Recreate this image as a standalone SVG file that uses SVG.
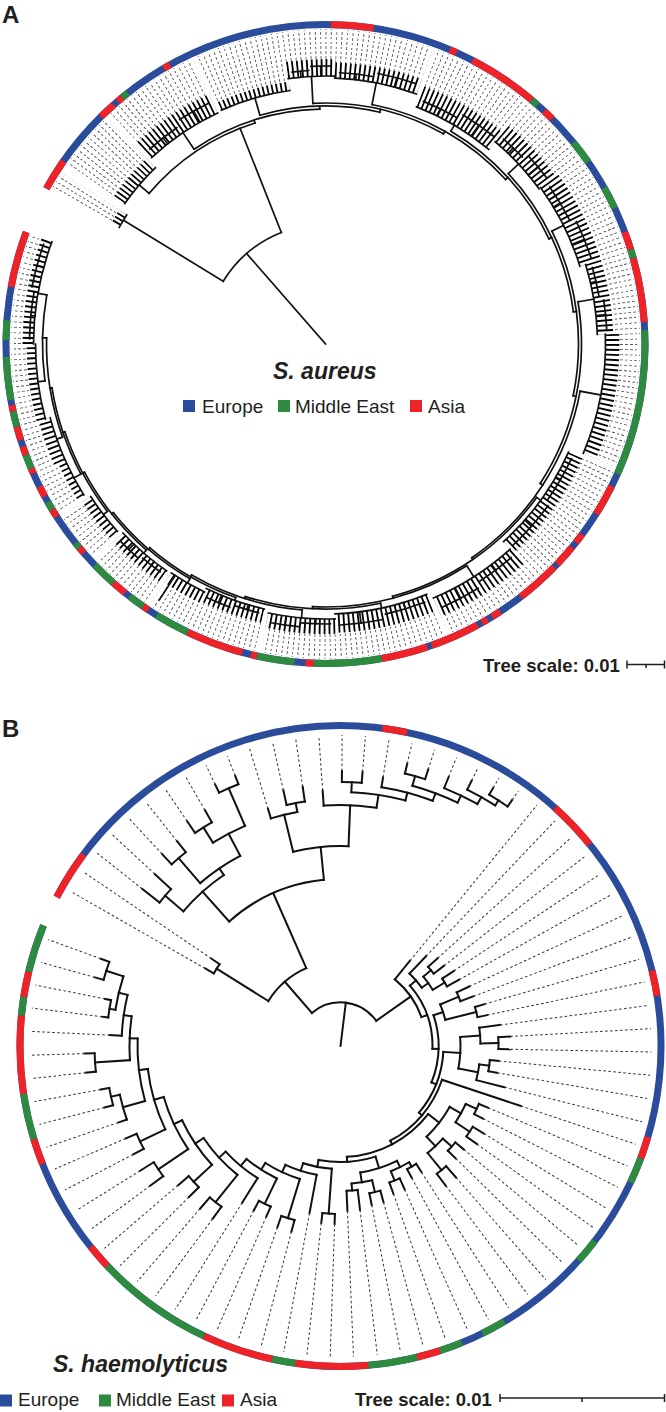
<svg xmlns="http://www.w3.org/2000/svg" width="666" height="1412" viewBox="0 0 666 1412">
<style>
text{font-family:"Liberation Sans",Arial,Helvetica,sans-serif;fill:#231f20}
.lab{font-weight:bold;font-size:24px}
.ttl{font-weight:bold;font-style:italic;font-size:23px}
.leg{font-size:19px}
.sc{font-weight:bold;font-size:18.5px}
.ta{fill:none;stroke:#111;stroke-width:1.7;stroke-linecap:square}
.tb{fill:none;stroke:#111;stroke-width:2;stroke-linecap:square}
.d{fill:none;stroke:#333;stroke-width:1;stroke-dasharray:2.6 2.4;stroke-linecap:butt}
.ring{fill:none;stroke-width:7}
.rb{stroke:#2b4b9b}.rr{stroke:#ed2328}.rg{stroke:#2d8a3e}
.m{fill:none;stroke:#fff}
.bar{fill:none;stroke:#231f20;stroke-width:1.5}
</style>
<defs>
<radialGradient id="rgA" gradientUnits="userSpaceOnUse" cx="0" cy="0" r="4.8" spreadMethod="repeat">
<stop offset="0.45" stop-color="#000"/><stop offset="0.45" stop-color="#fff"/>
</radialGradient>
<mask id="mR" maskUnits="userSpaceOnUse" x="-340" y="-350" width="680" height="700">
<rect x="-340" y="-350" width="680" height="700" fill="url(#rgA)"/>
</mask>
<mask id="mC" maskUnits="userSpaceOnUse" x="-340" y="-350" width="680" height="700">
<g class="m">
<circle r="241.5" stroke-width="9" pathLength="360" stroke-dasharray="3.5 999" transform="rotate(209.5)"/>
<circle r="251.5" stroke-width="13" pathLength="360" stroke-dasharray="11 999" transform="rotate(215)"/>
<circle r="265.5" stroke-width="21" pathLength="360" stroke-dasharray="18 999" transform="rotate(227)"/>
<circle r="260.5" stroke-width="9" pathLength="360" stroke-dasharray="16 999" transform="rotate(246)"/>
<circle r="276.5" stroke-width="17" pathLength="360" stroke-dasharray="10 999" transform="rotate(262)"/>
<circle r="274" stroke-width="16" pathLength="360" stroke-dasharray="18 999" transform="rotate(272)"/>
<circle r="265" stroke-width="22" pathLength="360" stroke-dasharray="19 999" transform="rotate(291)"/>
<circle r="274.5" stroke-width="21" pathLength="360" stroke-dasharray="14 999" transform="rotate(310)"/>
<circle r="277" stroke-width="22" pathLength="360" stroke-dasharray="19 999" transform="rotate(324)"/>
<circle r="280" stroke-width="16" pathLength="360" stroke-dasharray="15 999" transform="rotate(343)"/>
<circle r="287" stroke-width="14" pathLength="360" stroke-dasharray="25 999" transform="rotate(358)"/>
<circle r="273.5" stroke-width="15" pathLength="360" stroke-dasharray="24 999" transform="rotate(384)"/>
<circle r="286" stroke-width="20" pathLength="360" stroke-dasharray="19 999" transform="rotate(408)"/>
<circle r="279.5" stroke-width="19" pathLength="360" stroke-dasharray="20 999" transform="rotate(428)"/>
<circle r="282.5" stroke-width="15" pathLength="360" stroke-dasharray="14 999" transform="rotate(448)"/>
<circle r="279" stroke-width="14" pathLength="360" stroke-dasharray="13 999" transform="rotate(463)"/>
<circle r="282" stroke-width="12" pathLength="360" stroke-dasharray="8 999" transform="rotate(476)"/>
<circle r="283.5" stroke-width="13" pathLength="360" stroke-dasharray="12 999" transform="rotate(485)"/>
<circle r="285" stroke-width="10" pathLength="360" stroke-dasharray="9 999" transform="rotate(498)"/>
<circle r="289" stroke-width="8" pathLength="360" stroke-dasharray="8 999" transform="rotate(508)"/>
<circle r="291" stroke-width="12" pathLength="360" stroke-dasharray="9 999" transform="rotate(516)"/>
<circle r="294.5" stroke-width="9" pathLength="360" stroke-dasharray="15 999" transform="rotate(525)"/>
<circle r="297.5" stroke-width="11" pathLength="360" stroke-dasharray="20.5 999" transform="rotate(540)"/>
</g>
</mask>
<mask id="mD" maskUnits="userSpaceOnUse" x="-340" y="-350" width="680" height="700">
<g class="m">
<circle r="280.5" stroke-width="69" pathLength="360" stroke-dasharray="3.5 999" transform="rotate(209.5)"/>
<circle r="286.5" stroke-width="57" pathLength="360" stroke-dasharray="11 999" transform="rotate(215)"/>
<circle r="295.5" stroke-width="39" pathLength="360" stroke-dasharray="18 999" transform="rotate(227)"/>
<circle r="290" stroke-width="50" pathLength="360" stroke-dasharray="16 999" transform="rotate(246)"/>
<circle r="300" stroke-width="30" pathLength="360" stroke-dasharray="10 999" transform="rotate(262)"/>
<circle r="298.5" stroke-width="33" pathLength="360" stroke-dasharray="18 999" transform="rotate(272)"/>
<circle r="295.5" stroke-width="39" pathLength="360" stroke-dasharray="19 999" transform="rotate(291)"/>
<circle r="300" stroke-width="30" pathLength="360" stroke-dasharray="14 999" transform="rotate(310)"/>
<circle r="301.5" stroke-width="27" pathLength="360" stroke-dasharray="19 999" transform="rotate(324)"/>
<circle r="301.5" stroke-width="27" pathLength="360" stroke-dasharray="15 999" transform="rotate(343)"/>
<circle r="304.5" stroke-width="21" pathLength="360" stroke-dasharray="25 999" transform="rotate(358)"/>
<circle r="298" stroke-width="34" pathLength="360" stroke-dasharray="24 999" transform="rotate(384)"/>
<circle r="305.5" stroke-width="19" pathLength="360" stroke-dasharray="19 999" transform="rotate(408)"/>
<circle r="302" stroke-width="26" pathLength="360" stroke-dasharray="20 999" transform="rotate(428)"/>
<circle r="302.5" stroke-width="25" pathLength="360" stroke-dasharray="14 999" transform="rotate(448)"/>
<circle r="300.5" stroke-width="29" pathLength="360" stroke-dasharray="13 999" transform="rotate(463)"/>
<circle r="301.5" stroke-width="27" pathLength="360" stroke-dasharray="8 999" transform="rotate(476)"/>
<circle r="302.5" stroke-width="25" pathLength="360" stroke-dasharray="12 999" transform="rotate(485)"/>
<circle r="302.5" stroke-width="25" pathLength="360" stroke-dasharray="9 999" transform="rotate(498)"/>
<circle r="304" stroke-width="22" pathLength="360" stroke-dasharray="8 999" transform="rotate(508)"/>
<circle r="306" stroke-width="18" pathLength="360" stroke-dasharray="9 999" transform="rotate(516)"/>
<circle r="307" stroke-width="16" pathLength="360" stroke-dasharray="15 999" transform="rotate(525)"/>
<circle r="309" stroke-width="12" pathLength="360" stroke-dasharray="20.5 999" transform="rotate(540)"/>
</g>
</mask>
</defs>
<rect width="666" height="1412" fill="#fff"/>

<text class="lab" x="2" y="23">A</text>
<text class="lab" x="2" y="737">B</text>

<g id="leavesA" transform="translate(325.5 344)">
<g mask="url(#mR)"><circle r="277.5" fill="none" stroke="#555" stroke-width="75" pathLength="360" stroke-dasharray="0.18 0.82" mask="url(#mD)"/></g>
<circle r="272" fill="none" stroke="#000" stroke-width="72" pathLength="360" stroke-dasharray="0.38 0.62" mask="url(#mC)"/>
</g>

<g id="treeA" class="ta" transform="translate(325.5 344)">
<path transform="rotate(228.9)" d="M0 0H120"/>
<path transform="rotate(211.5)" d="M120 0H237"/>
<path transform="rotate(248.4)" d="M120 0H232"/>
<path transform="rotate(252.3)" d="M232 0H235"/>
<path transform="rotate(268.6)" d="M235 0H238"/>
<path transform="rotate(283.2)" d="M238 0H241"/>
<path transform="rotate(299.3)" d="M241 0H244"/>
<path transform="rotate(317.6)" d="M244 0H247"/>
<path transform="rotate(334.8)" d="M247 0H250"/>
<path transform="rotate(352.6)" d="M250 0H253"/>
<path transform="rotate(371.8)" d="M253 0H256"/>
<path transform="rotate(393)" d="M256 0H259"/>
<path transform="rotate(415.6)" d="M259 0H261"/>
<path transform="rotate(435.1)" d="M261 0H263"/>
<path transform="rotate(452.8)" d="M263 0H265"/>
<path transform="rotate(467.6)" d="M265 0H267"/>
<path transform="rotate(480.1)" d="M267 0H269"/>
<path transform="rotate(490.75)" d="M269 0H271"/>
<path transform="rotate(501.5)" d="M271 0H273"/>
<path transform="rotate(512)" d="M273 0H275"/>
<path transform="rotate(521.4)" d="M275 0H277"/>
<path transform="rotate(530.9)" d="M277 0H279"/>
<path transform="rotate(541.25)" d="M279 0H283"/>
<path transform="rotate(220.5)" d="M232 0H245"/>
<path transform="rotate(236)" d="M235 0H255"/>
<path transform="rotate(254)" d="M238 0H256"/>
<path transform="rotate(267)" d="M241 0H268"/>
<path transform="rotate(281)" d="M244 0H266"/>
<path transform="rotate(300.5)" d="M247 0H254"/>
<path transform="rotate(317)" d="M250 0H264"/>
<path transform="rotate(333.5)" d="M253 0H266"/>
<path transform="rotate(350.5)" d="M256 0H272"/>
<path transform="rotate(370.5)" d="M259 0H280"/>
<path transform="rotate(396)" d="M261 0H266"/>
<path transform="rotate(417.5)" d="M263 0H276"/>
<path transform="rotate(438)" d="M265 0H270"/>
<path transform="rotate(455)" d="M267 0H275"/>
<path transform="rotate(469.5)" d="M269 0H272"/>
<path transform="rotate(480)" d="M271 0H276"/>
<path transform="rotate(491)" d="M273 0H277"/>
<path transform="rotate(502.5)" d="M275 0H280"/>
<path transform="rotate(512)" d="M277 0H285"/>
<path transform="rotate(520.5)" d="M279 0H285"/>
<path transform="rotate(532.5)" d="M283 0H290"/>
<path transform="rotate(550)" d="M283 0H292"/>
<path transform="rotate(483)" d="M276 0H305"/>
<path transform="rotate(231.75)" d="M255 0H262.4"/>
<path transform="rotate(240.5)" d="M255 0H267.6"/>
<path transform="rotate(264.75)" d="M268 0H274"/>
<path transform="rotate(269)" d="M268 0H278"/>
<path transform="rotate(276.5)" d="M266 0H271.6"/>
<path transform="rotate(285)" d="M266 0H275.6"/>
<path transform="rotate(296)" d="M254 0H261.7"/>
<path transform="rotate(305)" d="M254 0H267.2"/>
<path transform="rotate(313.75)" d="M264 0H271.4"/>
<path transform="rotate(320.25)" d="M264 0H276.6"/>
<path transform="rotate(329)" d="M266 0H273.7"/>
<path transform="rotate(338)" d="M266 0H279.2"/>
<path transform="rotate(347)" d="M272 0H277.6"/>
<path transform="rotate(354)" d="M272 0H281.6"/>
<path transform="rotate(390)" d="M266 0H271.3"/>
<path transform="rotate(401.5)" d="M266 0H275"/>
<path transform="rotate(413)" d="M276 0H283"/>
<path transform="rotate(422)" d="M276 0H288"/>
<path transform="rotate(433.25)" d="M270 0H276.7"/>
<path transform="rotate(442.75)" d="M270 0H281.4"/>
<path transform="rotate(452)" d="M275 0H280"/>
<path transform="rotate(458.25)" d="M275 0H284"/>
<path transform="rotate(466.5)" d="M272 0H277"/>
<path transform="rotate(472.5)" d="M272 0H280"/>
<path transform="rotate(488.25)" d="M277 0H281.5"/>
<path transform="rotate(493.75)" d="M277 0H284.5"/>
<path transform="rotate(545.5)" d="M292 0H296"/>
<path transform="rotate(555.25)" d="M292 0H299"/>
<circle r="120" pathLength="360" stroke-dasharray="36.9 999" transform="rotate(211.5)"/>
<circle r="232" pathLength="360" stroke-dasharray="31.8 999" transform="rotate(220.5)"/>
<circle r="235" pathLength="360" stroke-dasharray="32.6 999" transform="rotate(236)"/>
<circle r="238" pathLength="360" stroke-dasharray="29.2 999" transform="rotate(254)"/>
<circle r="241" pathLength="360" stroke-dasharray="32.3 999" transform="rotate(267)"/>
<circle r="244" pathLength="360" stroke-dasharray="36.6 999" transform="rotate(281)"/>
<circle r="247" pathLength="360" stroke-dasharray="34.3 999" transform="rotate(300.5)"/>
<circle r="250" pathLength="360" stroke-dasharray="35.6 999" transform="rotate(317)"/>
<circle r="253" pathLength="360" stroke-dasharray="38.3 999" transform="rotate(333.5)"/>
<circle r="256" pathLength="360" stroke-dasharray="42.5 999" transform="rotate(350.5)"/>
<circle r="259" pathLength="360" stroke-dasharray="45.1 999" transform="rotate(370.5)"/>
<circle r="261" pathLength="360" stroke-dasharray="39.1 999" transform="rotate(396)"/>
<circle r="263" pathLength="360" stroke-dasharray="35.3 999" transform="rotate(417.5)"/>
<circle r="265" pathLength="360" stroke-dasharray="29.6 999" transform="rotate(438)"/>
<circle r="267" pathLength="360" stroke-dasharray="25.1 999" transform="rotate(455)"/>
<circle r="269" pathLength="360" stroke-dasharray="21.25 999" transform="rotate(469.5)"/>
<circle r="271" pathLength="360" stroke-dasharray="21.5 999" transform="rotate(480)"/>
<circle r="273" pathLength="360" stroke-dasharray="21 999" transform="rotate(491)"/>
<circle r="275" pathLength="360" stroke-dasharray="18.9 999" transform="rotate(502.5)"/>
<circle r="277" pathLength="360" stroke-dasharray="18.9 999" transform="rotate(512)"/>
<circle r="279" pathLength="360" stroke-dasharray="20.75 999" transform="rotate(520.5)"/>
<circle r="283" pathLength="360" stroke-dasharray="17.5 999" transform="rotate(532.5)"/>
<circle r="237" pathLength="360" stroke-dasharray="3.5 999" transform="rotate(209.5)"/>
<circle r="245" pathLength="360" stroke-dasharray="11 999" transform="rotate(215)"/>
<circle r="255" pathLength="360" stroke-dasharray="18 999" transform="rotate(227)"/>
<circle r="256" pathLength="360" stroke-dasharray="16 999" transform="rotate(246)"/>
<circle r="268" pathLength="360" stroke-dasharray="10 999" transform="rotate(262)"/>
<circle r="266" pathLength="360" stroke-dasharray="18 999" transform="rotate(272)"/>
<circle r="254" pathLength="360" stroke-dasharray="19 999" transform="rotate(291)"/>
<circle r="264" pathLength="360" stroke-dasharray="14 999" transform="rotate(310)"/>
<circle r="266" pathLength="360" stroke-dasharray="19 999" transform="rotate(324)"/>
<circle r="272" pathLength="360" stroke-dasharray="15 999" transform="rotate(343)"/>
<circle r="280" pathLength="360" stroke-dasharray="25 999" transform="rotate(358)"/>
<circle r="266" pathLength="360" stroke-dasharray="24 999" transform="rotate(384)"/>
<circle r="276" pathLength="360" stroke-dasharray="19 999" transform="rotate(408)"/>
<circle r="270" pathLength="360" stroke-dasharray="20 999" transform="rotate(428)"/>
<circle r="275" pathLength="360" stroke-dasharray="14 999" transform="rotate(448)"/>
<circle r="272" pathLength="360" stroke-dasharray="13 999" transform="rotate(463)"/>
<circle r="276" pathLength="360" stroke-dasharray="8 999" transform="rotate(476)"/>
<circle r="277" pathLength="360" stroke-dasharray="12 999" transform="rotate(485)"/>
<circle r="280" pathLength="360" stroke-dasharray="9 999" transform="rotate(498)"/>
<circle r="285" pathLength="360" stroke-dasharray="8 999" transform="rotate(508)"/>
<circle r="285" pathLength="360" stroke-dasharray="9 999" transform="rotate(516)"/>
<circle r="290" pathLength="360" stroke-dasharray="15 999" transform="rotate(525)"/>
<circle r="292" pathLength="360" stroke-dasharray="20.5 999" transform="rotate(540)"/>
<circle r="262.4" pathLength="360" stroke-dasharray="7.5 999" transform="rotate(228)"/>
<circle r="267.6" pathLength="360" stroke-dasharray="7 999" transform="rotate(237)"/>
<circle r="274" pathLength="360" stroke-dasharray="3.5 999" transform="rotate(263)"/>
<circle r="278" pathLength="360" stroke-dasharray="4 999" transform="rotate(267)"/>
<circle r="271.6" pathLength="360" stroke-dasharray="7 999" transform="rotate(273)"/>
<circle r="275.6" pathLength="360" stroke-dasharray="8 999" transform="rotate(281)"/>
<circle r="261.7" pathLength="360" stroke-dasharray="8 999" transform="rotate(292)"/>
<circle r="267.2" pathLength="360" stroke-dasharray="8 999" transform="rotate(301)"/>
<circle r="271.4" pathLength="360" stroke-dasharray="5.5 999" transform="rotate(311)"/>
<circle r="276.6" pathLength="360" stroke-dasharray="5.5 999" transform="rotate(317.5)"/>
<circle r="273.7" pathLength="360" stroke-dasharray="8 999" transform="rotate(325)"/>
<circle r="279.2" pathLength="360" stroke-dasharray="8 999" transform="rotate(334)"/>
<circle r="277.6" pathLength="360" stroke-dasharray="6 999" transform="rotate(344)"/>
<circle r="281.6" pathLength="360" stroke-dasharray="6 999" transform="rotate(351)"/>
<circle r="271.3" pathLength="360" stroke-dasharray="10 999" transform="rotate(385)"/>
<circle r="275" pathLength="360" stroke-dasharray="11 999" transform="rotate(396)"/>
<circle r="283" pathLength="360" stroke-dasharray="8 999" transform="rotate(409)"/>
<circle r="288" pathLength="360" stroke-dasharray="8 999" transform="rotate(418)"/>
<circle r="276.7" pathLength="360" stroke-dasharray="8.5 999" transform="rotate(429)"/>
<circle r="281.4" pathLength="360" stroke-dasharray="8.5 999" transform="rotate(438.5)"/>
<circle r="280" pathLength="360" stroke-dasharray="6 999" transform="rotate(449)"/>
<circle r="284" pathLength="360" stroke-dasharray="5.5 999" transform="rotate(455.5)"/>
<circle r="277" pathLength="360" stroke-dasharray="5 999" transform="rotate(464)"/>
<circle r="280" pathLength="360" stroke-dasharray="5 999" transform="rotate(470)"/>
<circle r="281.5" pathLength="360" stroke-dasharray="4.5 999" transform="rotate(486)"/>
<circle r="284.5" pathLength="360" stroke-dasharray="4.5 999" transform="rotate(491.5)"/>
<circle r="296" pathLength="360" stroke-dasharray="9 999" transform="rotate(541)"/>
<circle r="299" pathLength="360" stroke-dasharray="8.5 999" transform="rotate(551)"/>
</g>

<g id="ringA" transform="translate(325.5 344)">
<circle class="ring rb" r="319.5" pathLength="360" stroke-dasharray="351.4 999" transform="rotate(209.1)"/>
<g class="ring rr">
<circle r="319.5" pathLength="360" stroke-dasharray="5.8 999" transform="rotate(209.1)"/>
<circle r="319.5" pathLength="360" stroke-dasharray="3.1 999" transform="rotate(225.4)"/>
<circle r="319.5" pathLength="360" stroke-dasharray="1.1 999" transform="rotate(229.4)"/>
<circle r="319.5" pathLength="360" stroke-dasharray="1.3 999" transform="rotate(239.6)"/>
<circle r="319.5" pathLength="360" stroke-dasharray="7.7 999" transform="rotate(271)"/>
<circle r="319.5" pathLength="360" stroke-dasharray="1.3 999" transform="rotate(292.9)"/>
<circle r="319.5" pathLength="360" stroke-dasharray="12.8 999" transform="rotate(297.4)"/>
<circle r="319.5" pathLength="360" stroke-dasharray="2 999" transform="rotate(313.2)"/>
<circle r="319.5" pathLength="360" stroke-dasharray="3.3 999" transform="rotate(339.5)"/>
<circle r="319.5" pathLength="360" stroke-dasharray="11.7 999" transform="rotate(344.4)"/>
<circle r="319.5" pathLength="360" stroke-dasharray="5.7 999" transform="rotate(26.4)"/>
<circle r="319.5" pathLength="360" stroke-dasharray="1.8 999" transform="rotate(36.6)"/>
<circle r="319.5" pathLength="360" stroke-dasharray="4 999" transform="rotate(39.5)"/>
<circle r="319.5" pathLength="360" stroke-dasharray="8 999" transform="rotate(44.3)"/>
<circle r="319.5" pathLength="360" stroke-dasharray="1.7 999" transform="rotate(56.9)"/>
<circle r="319.5" pathLength="360" stroke-dasharray="1.1 999" transform="rotate(59.6)"/>
<circle r="319.5" pathLength="360" stroke-dasharray="9 999" transform="rotate(61.6)"/>
<circle r="319.5" pathLength="360" stroke-dasharray="8.5 999" transform="rotate(71.4)"/>
<circle r="319.5" pathLength="360" stroke-dasharray="1.5 999" transform="rotate(92.1)"/>
<circle r="319.5" pathLength="360" stroke-dasharray="1.2 999" transform="rotate(102.3)"/>
<circle r="319.5" pathLength="360" stroke-dasharray="10.5 999" transform="rotate(105.1)"/>
<circle r="319.5" pathLength="360" stroke-dasharray="1.1 999" transform="rotate(123.7)"/>
<circle r="319.5" pathLength="360" stroke-dasharray="2.7 999" transform="rotate(128.9)"/>
<circle r="319.5" pathLength="360" stroke-dasharray="1.2 999" transform="rotate(139.2)"/>
<circle r="319.5" pathLength="360" stroke-dasharray="1.5 999" transform="rotate(147.3)"/>
<circle r="319.5" pathLength="360" stroke-dasharray="2 999" transform="rotate(151.5)"/>
<circle r="319.5" pathLength="360" stroke-dasharray="1 999" transform="rotate(156.1)"/>
<circle r="319.5" pathLength="360" stroke-dasharray="1.6 999" transform="rotate(159.7)"/>
<circle r="319.5" pathLength="360" stroke-dasharray="2.5 999" transform="rotate(162.5)"/>
<circle r="319.5" pathLength="360" stroke-dasharray="1.2 999" transform="rotate(167.8)"/>
<circle r="319.5" pathLength="360" stroke-dasharray="10.2 999" transform="rotate(190.3)"/>
</g>
<g class="ring rg">
<circle r="319.5" pathLength="360" stroke-dasharray="1.3 999" transform="rotate(230.5)"/>
<circle r="319.5" pathLength="360" stroke-dasharray="1.4 999" transform="rotate(310.2)"/>
<circle r="319.5" pathLength="360" stroke-dasharray="4.4 999" transform="rotate(320.9)"/>
<circle r="319.5" pathLength="360" stroke-dasharray="4.1 999" transform="rotate(330.7)"/>
<circle r="319.5" pathLength="360" stroke-dasharray="1.6 999" transform="rotate(342.8)"/>
<circle r="319.5" pathLength="360" stroke-dasharray="26.5 999" transform="rotate(357.5)"/>
<circle r="319.5" pathLength="360" stroke-dasharray="12.2 999" transform="rotate(79.9)"/>
<circle r="319.5" pathLength="360" stroke-dasharray="6.8 999" transform="rotate(95.6)"/>
<circle r="319.5" pathLength="360" stroke-dasharray="6.3 999" transform="rotate(115.6)"/>
<circle r="319.5" pathLength="360" stroke-dasharray="3 999" transform="rotate(124.8)"/>
<circle r="319.5" pathLength="360" stroke-dasharray="4.6 999" transform="rotate(131.6)"/>
<circle r="319.5" pathLength="360" stroke-dasharray="1.1 999" transform="rotate(140.4)"/>
<circle r="319.5" pathLength="360" stroke-dasharray="1.6 999" transform="rotate(148.8)"/>
<circle r="319.5" pathLength="360" stroke-dasharray="2.6 999" transform="rotate(157.1)"/>
<circle r="319.5" pathLength="360" stroke-dasharray="2.8 999" transform="rotate(165)"/>
<circle r="319.5" pathLength="360" stroke-dasharray="7.8 999" transform="rotate(169.9)"/>
<circle r="319.5" pathLength="360" stroke-dasharray="3.6 999" transform="rotate(180.7)"/>
</g>
</g>

<g id="legendA">
<text class="ttl" x="273" y="379">S. aureus</text>
<rect x="183" y="400" width="12" height="12" fill="#2b4b9b"/>
<text class="leg" x="202" y="413">Europe</text>
<rect x="278" y="400" width="12" height="12" fill="#2d8a3e"/>
<text class="leg" x="295" y="413">Middle East</text>
<rect x="410" y="400" width="12" height="12" fill="#ed2328"/>
<text class="leg" x="428" y="413">Asia</text>
</g>
<g id="scaleA">
<text class="sc" x="483" y="672">Tree scale: 0.01</text>
<path class="bar" d="M627 664.5H664.5M627 660.5V668.5M664.5 660.5V668.5M646 664.5V668"/>
</g>

<g id="treeB" class="tb" transform="translate(340.5 1046)">
<circle r="43.7" pathLength="360" stroke-dasharray="95.7 999" transform="rotate(229.1)"/>
<circle r="85" pathLength="360" stroke-dasharray="34.3 999" transform="rotate(211.95)"/>
<circle r="146" pathLength="360" stroke-dasharray="4.3 999" transform="rotate(209.8)"/>
<circle r="167" pathLength="360" stroke-dasharray="36.1 999" transform="rotate(228.2)"/>
<circle r="207" pathLength="360" stroke-dasharray="15.1 999" transform="rotate(220.6)"/>
<circle r="231" pathLength="360" stroke-dasharray="4.4 999" transform="rotate(218.4)"/>
<circle r="215" pathLength="360" stroke-dasharray="12.95 999" transform="rotate(229.25)"/>
<circle r="248" pathLength="360" stroke-dasharray="4.3 999" transform="rotate(227.1)"/>
<circle r="240" pathLength="360" stroke-dasharray="8.65 999" transform="rotate(237.9)"/>
<circle r="258" pathLength="360" stroke-dasharray="4.4 999" transform="rotate(235.7)"/>
<circle r="281" pathLength="360" stroke-dasharray="4.3 999" transform="rotate(244.4)"/>
<circle r="200" pathLength="360" stroke-dasharray="16 999" transform="rotate(256.3)"/>
<circle r="238" pathLength="360" stroke-dasharray="6.55 999" transform="rotate(253)"/>
<circle r="247" pathLength="360" stroke-dasharray="4.3 999" transform="rotate(257.4)"/>
<circle r="241" pathLength="360" stroke-dasharray="12.6 999" transform="rotate(266)"/>
<circle r="254" pathLength="360" stroke-dasharray="12.35 999" transform="rotate(272.45)"/>
<circle r="264" pathLength="360" stroke-dasharray="4.3 999" transform="rotate(270.3)"/>
<circle r="262" pathLength="360" stroke-dasharray="11.6 999" transform="rotate(279)"/>
<circle r="270" pathLength="360" stroke-dasharray="10.25 999" transform="rotate(285.45)"/>
<circle r="280" pathLength="360" stroke-dasharray="4.3 999" transform="rotate(283.3)"/>
<circle r="278" pathLength="360" stroke-dasharray="7.6 999" transform="rotate(291.9)"/>
<circle r="286" pathLength="360" stroke-dasharray="6.45 999" transform="rotate(296.3)"/>
<circle r="292" pathLength="360" stroke-dasharray="4.3 999" transform="rotate(300.6)"/>
<circle r="86" pathLength="360" stroke-dasharray="31.15 999" transform="rotate(309.2)"/>
<circle r="92" pathLength="360" stroke-dasharray="42.7 999" transform="rotate(319)"/>
<circle r="98" pathLength="360" stroke-dasharray="40.15 999" transform="rotate(341.65)"/>
<circle r="103" pathLength="360" stroke-dasharray="37.05 999" transform="rotate(363.3)"/>
<circle r="107" pathLength="360" stroke-dasharray="43.9 999" transform="rotate(378.4)"/>
<circle r="111" pathLength="360" stroke-dasharray="48.85 999" transform="rotate(397.85)"/>
<circle r="116" pathLength="360" stroke-dasharray="28.45 999" transform="rotate(432.45)"/>
<circle r="123" pathLength="360" stroke-dasharray="13.65 999" transform="rotate(454.05)"/>
<circle r="131" pathLength="360" stroke-dasharray="14.35 999" transform="rotate(460.5)"/>
<circle r="139" pathLength="360" stroke-dasharray="15.7 999" transform="rotate(467)"/>
<circle r="147" pathLength="360" stroke-dasharray="14.1 999" transform="rotate(475.65)"/>
<circle r="156" pathLength="360" stroke-dasharray="15.3 999" transform="rotate(482.1)"/>
<circle r="165" pathLength="360" stroke-dasharray="17.45 999" transform="rotate(488.65)"/>
<circle r="175" pathLength="360" stroke-dasharray="17.65 999" transform="rotate(497.25)"/>
<circle r="184" pathLength="360" stroke-dasharray="18 999" transform="rotate(505.9)"/>
<circle r="194" pathLength="360" stroke-dasharray="18.65 999" transform="rotate(514.55)"/>
<circle r="203" pathLength="360" stroke-dasharray="17.8 999" transform="rotate(524.3)"/>
<circle r="211" pathLength="360" stroke-dasharray="11.95 999" transform="rotate(536.15)"/>
<circle r="219" pathLength="360" stroke-dasharray="10.8 999" transform="rotate(542.7)"/>
<circle r="100" pathLength="360" stroke-dasharray="10.75 999" transform="rotate(313.6)"/>
<circle r="108" pathLength="360" stroke-dasharray="8.6 999" transform="rotate(320.05)"/>
<circle r="118" pathLength="360" stroke-dasharray="4.3 999" transform="rotate(317.9)"/>
<circle r="122" pathLength="360" stroke-dasharray="4.3 999" transform="rotate(326.5)"/>
<circle r="108" pathLength="360" stroke-dasharray="8.6 999" transform="rotate(337.35)"/>
<circle r="128" pathLength="360" stroke-dasharray="4.3 999" transform="rotate(335.2)"/>
<circle r="140" pathLength="360" stroke-dasharray="4.3 999" transform="rotate(343.8)"/>
<circle r="120" pathLength="360" stroke-dasharray="15.1 999" transform="rotate(355.7)"/>
<circle r="140" pathLength="360" stroke-dasharray="6.45 999" transform="rotate(352.5)"/>
<circle r="158" pathLength="360" stroke-dasharray="4.3 999" transform="rotate(356.8)"/>
<circle r="140" pathLength="360" stroke-dasharray="6.55 999" transform="rotate(367.55)"/>
<circle r="150" pathLength="360" stroke-dasharray="4.3 999" transform="rotate(365.4)"/>
<circle r="125" pathLength="360" stroke-dasharray="17.3 999" transform="rotate(389.2)"/>
<circle r="138" pathLength="360" stroke-dasharray="8.7 999" transform="rotate(384.85)"/>
<circle r="150" pathLength="360" stroke-dasharray="4.3 999" transform="rotate(382.7)"/>
<circle r="155" pathLength="360" stroke-dasharray="4.3 999" transform="rotate(391.4)"/>
<circle r="138" pathLength="360" stroke-dasharray="8.7 999" transform="rotate(402.15)"/>
<circle r="150" pathLength="360" stroke-dasharray="4.3 999" transform="rotate(400)"/>
<circle r="160" pathLength="360" stroke-dasharray="4.3 999" transform="rotate(408.7)"/>
<circle r="128" pathLength="360" stroke-dasharray="17.3 999" transform="rotate(423.8)"/>
<circle r="135" pathLength="360" stroke-dasharray="8.65 999" transform="rotate(419.45)"/>
<circle r="140" pathLength="360" stroke-dasharray="4.3 999" transform="rotate(417.3)"/>
<circle r="145" pathLength="360" stroke-dasharray="4.4 999" transform="rotate(425.9)"/>
<circle r="138" pathLength="360" stroke-dasharray="8.65 999" transform="rotate(436.75)"/>
<circle r="150" pathLength="360" stroke-dasharray="4.3 999" transform="rotate(434.6)"/>
<circle r="145" pathLength="360" stroke-dasharray="4.4 999" transform="rotate(443.2)"/>
<circle r="168" pathLength="360" stroke-dasharray="4.3 999" transform="rotate(451.9)"/>
<circle r="180" pathLength="360" stroke-dasharray="4.4 999" transform="rotate(464.8)"/>
<circle r="175" pathLength="360" stroke-dasharray="4.3 999" transform="rotate(473.5)"/>
<circle r="200" pathLength="360" stroke-dasharray="4.3 999" transform="rotate(486.5)"/>
<circle r="200" pathLength="360" stroke-dasharray="4.3 999" transform="rotate(495.1)"/>
<circle r="220" pathLength="360" stroke-dasharray="4.4 999" transform="rotate(503.7)"/>
<circle r="222" pathLength="360" stroke-dasharray="4.3 999" transform="rotate(512.4)"/>
<circle r="226" pathLength="360" stroke-dasharray="6.55 999" transform="rotate(521)"/>
<circle r="235" pathLength="360" stroke-dasharray="4.3 999" transform="rotate(525.4)"/>
<circle r="246" pathLength="360" stroke-dasharray="4.3 999" transform="rotate(534)"/>
<circle r="228" pathLength="360" stroke-dasharray="8.65 999" transform="rotate(549.15)"/>
<circle r="234" pathLength="360" stroke-dasharray="4.3 999" transform="rotate(547)"/>
<circle r="246" pathLength="360" stroke-dasharray="4.4 999" transform="rotate(555.6)"/>
<path transform="rotate(277)" d="M0 0H43.7"/>
<path transform="rotate(229.1)" d="M43.7 0H85"/>
<path transform="rotate(211.95)" d="M85 0H146"/>
<path transform="rotate(246.25)" d="M85 0H167"/>
<path transform="rotate(228.2)" d="M167 0H207"/>
<path transform="rotate(220.6)" d="M207 0H231"/>
<path transform="rotate(235.7)" d="M207 0H215"/>
<path transform="rotate(229.25)" d="M215 0H248"/>
<path transform="rotate(242.2)" d="M215 0H240"/>
<path transform="rotate(237.9)" d="M240 0H258"/>
<path transform="rotate(246.55)" d="M240 0H281"/>
<path transform="rotate(264.3)" d="M167 0H200"/>
<path transform="rotate(256.3)" d="M200 0H238"/>
<path transform="rotate(259.55)" d="M238 0H247"/>
<path transform="rotate(272.3)" d="M200 0H241"/>
<path transform="rotate(278.6)" d="M241 0H254"/>
<path transform="rotate(272.45)" d="M254 0H264"/>
<path transform="rotate(284.8)" d="M254 0H262"/>
<path transform="rotate(290.6)" d="M262 0H270"/>
<path transform="rotate(285.45)" d="M270 0H280"/>
<path transform="rotate(295.7)" d="M270 0H278"/>
<path transform="rotate(299.5)" d="M278 0H286"/>
<path transform="rotate(302.75)" d="M286 0H292"/>
<path transform="rotate(324.8)" d="M43.7 0H86"/>
<path transform="rotate(340.35)" d="M86 0H92"/>
<path transform="rotate(361.7)" d="M92 0H98"/>
<path transform="rotate(381.8)" d="M98 0H103"/>
<path transform="rotate(400.35)" d="M103 0H107"/>
<path transform="rotate(422.3)" d="M107 0H111"/>
<path transform="rotate(446.7)" d="M111 0H116"/>
<path transform="rotate(460.9)" d="M116 0H123"/>
<path transform="rotate(467.7)" d="M123 0H131"/>
<path transform="rotate(474.85)" d="M131 0H139"/>
<path transform="rotate(482.7)" d="M139 0H147"/>
<path transform="rotate(489.75)" d="M147 0H156"/>
<path transform="rotate(497.4)" d="M156 0H165"/>
<path transform="rotate(506.1)" d="M165 0H175"/>
<path transform="rotate(514.9)" d="M175 0H184"/>
<path transform="rotate(523.9)" d="M184 0H194"/>
<path transform="rotate(533.2)" d="M194 0H203"/>
<path transform="rotate(542.1)" d="M203 0H211"/>
<path transform="rotate(548.1)" d="M211 0H219"/>
<path transform="rotate(319)" d="M92 0H100"/>
<path transform="rotate(341.65)" d="M98 0H108"/>
<path transform="rotate(363.3)" d="M103 0H120"/>
<path transform="rotate(397.85)" d="M111 0H125"/>
<path transform="rotate(432.45)" d="M116 0H128"/>
<path transform="rotate(454.05)" d="M123 0H168"/>
<path transform="rotate(467)" d="M139 0H180"/>
<path transform="rotate(475.65)" d="M147 0H175"/>
<path transform="rotate(488.65)" d="M165 0H200"/>
<path transform="rotate(497.25)" d="M175 0H200"/>
<path transform="rotate(505.9)" d="M184 0H220"/>
<path transform="rotate(514.55)" d="M194 0H222"/>
<path transform="rotate(524.3)" d="M203 0H226"/>
<path transform="rotate(536.15)" d="M211 0H246"/>
<path transform="rotate(553.5)" d="M219 0H228"/>
<path transform="rotate(324.35)" d="M100 0H108"/>
<path transform="rotate(320.05)" d="M108 0H118"/>
<path transform="rotate(328.65)" d="M108 0H122"/>
<path transform="rotate(337.35)" d="M108 0H128"/>
<path transform="rotate(345.95)" d="M108 0H140"/>
<path transform="rotate(355.7)" d="M120 0H140"/>
<path transform="rotate(358.95)" d="M140 0H158"/>
<path transform="rotate(370.8)" d="M120 0H140"/>
<path transform="rotate(367.55)" d="M140 0H150"/>
<path transform="rotate(389.2)" d="M125 0H138"/>
<path transform="rotate(384.85)" d="M138 0H150"/>
<path transform="rotate(393.55)" d="M138 0H155"/>
<path transform="rotate(406.5)" d="M125 0H138"/>
<path transform="rotate(402.15)" d="M138 0H150"/>
<path transform="rotate(410.85)" d="M138 0H160"/>
<path transform="rotate(423.8)" d="M128 0H135"/>
<path transform="rotate(419.45)" d="M135 0H140"/>
<path transform="rotate(428.1)" d="M135 0H145"/>
<path transform="rotate(441.1)" d="M128 0H138"/>
<path transform="rotate(436.75)" d="M138 0H150"/>
<path transform="rotate(445.4)" d="M138 0H145"/>
<path transform="rotate(527.55)" d="M226 0H235"/>
<path transform="rotate(549.15)" d="M228 0H234"/>
<path transform="rotate(557.8)" d="M228 0H246"/>
</g>

<g id="leavesB" class="tb" transform="translate(340.5 1046)">
<g transform="rotate(209.8)"><path d="M146 0H156"/><path class="d" d="M156 0H311"/></g>
<g transform="rotate(214.1)"><path d="M146 0H156"/><path class="d" d="M156 0H311"/></g>
<g transform="rotate(218.4)"><path d="M231 0H253"/><path class="d" d="M253 0H311"/></g>
<g transform="rotate(222.8)"><path d="M231 0H253"/><path class="d" d="M253 0H311"/></g>
<g transform="rotate(227.1)"><path d="M248 0H262"/><path class="d" d="M262 0H311"/></g>
<g transform="rotate(231.4)"><path d="M248 0H262"/><path class="d" d="M262 0H311"/></g>
<g transform="rotate(235.7)"><path d="M258 0H272"/><path class="d" d="M272 0H311"/></g>
<g transform="rotate(240.1)"><path d="M258 0H272"/><path class="d" d="M272 0H311"/></g>
<g transform="rotate(244.4)"><path d="M281 0H290"/><path class="d" d="M290 0H311"/></g>
<g transform="rotate(248.7)"><path d="M281 0H290"/><path class="d" d="M290 0H311"/></g>
<g transform="rotate(253)"><path d="M238 0H248"/><path class="d" d="M248 0H311"/></g>
<g transform="rotate(257.4)"><path d="M247 0H262"/><path class="d" d="M262 0H311"/></g>
<g transform="rotate(261.7)"><path d="M247 0H262"/><path class="d" d="M262 0H311"/></g>
<g transform="rotate(266)"><path d="M241 0H256"/><path class="d" d="M256 0H311"/></g>
<g transform="rotate(270.3)"><path d="M264 0H275"/><path class="d" d="M275 0H311"/></g>
<g transform="rotate(274.6)"><path d="M264 0H275"/><path class="d" d="M275 0H311"/></g>
<g transform="rotate(279)"><path d="M262 0H272"/><path class="d" d="M272 0H311"/></g>
<g transform="rotate(283.3)"><path d="M280 0H290"/><path class="d" d="M290 0H311"/></g>
<g transform="rotate(287.6)"><path d="M280 0H290"/><path class="d" d="M290 0H311"/></g>
<g transform="rotate(291.9)"><path d="M278 0H290"/><path class="d" d="M290 0H311"/></g>
<g transform="rotate(296.3)"><path d="M286 0H296"/><path class="d" d="M296 0H311"/></g>
<g transform="rotate(300.6)"><path d="M292 0H300"/><path class="d" d="M300 0H311"/></g>
<g transform="rotate(304.9)"><path d="M292 0H300"/><path class="d" d="M300 0H311"/></g>
<g transform="rotate(309.2)"><path d="M86 0H110"/><path class="d" d="M110 0H311"/></g>
<g transform="rotate(313.6)"><path d="M100 0H124"/><path class="d" d="M124 0H311"/></g>
<g transform="rotate(317.9)"><path d="M118 0H131"/><path class="d" d="M131 0H311"/></g>
<g transform="rotate(322.2)"><path d="M118 0H131"/><path class="d" d="M131 0H311"/></g>
<g transform="rotate(326.5)"><path d="M122 0H136"/><path class="d" d="M136 0H311"/></g>
<g transform="rotate(330.8)"><path d="M122 0H136"/><path class="d" d="M136 0H311"/></g>
<g transform="rotate(335.2)"><path d="M128 0H142"/><path class="d" d="M142 0H311"/></g>
<g transform="rotate(339.5)"><path d="M128 0H142"/><path class="d" d="M142 0H311"/></g>
<g transform="rotate(343.8)"><path d="M140 0H150"/><path class="d" d="M150 0H311"/></g>
<g transform="rotate(348.1)"><path d="M140 0H150"/><path class="d" d="M150 0H311"/></g>
<g transform="rotate(352.5)"><path d="M140 0H161"/><path class="d" d="M161 0H311"/></g>
<g transform="rotate(356.8)"><path d="M158 0H170"/><path class="d" d="M170 0H311"/></g>
<g transform="rotate(1.1)"><path d="M158 0H170"/><path class="d" d="M170 0H311"/></g>
<g transform="rotate(5.4)"><path d="M150 0H159"/><path class="d" d="M159 0H311"/></g>
<g transform="rotate(9.7)"><path d="M150 0H159"/><path class="d" d="M159 0H311"/></g>
<g transform="rotate(14.1)"><path d="M140 0H169"/><path class="d" d="M169 0H311"/></g>
<g transform="rotate(18.4)"><path d="M107 0H190"/><path class="d" d="M190 0H311"/></g>
<g transform="rotate(22.7)"><path d="M150 0H160"/><path class="d" d="M160 0H311"/></g>
<g transform="rotate(27)"><path d="M150 0H160"/><path class="d" d="M160 0H311"/></g>
<g transform="rotate(31.4)"><path d="M155 0H168"/><path class="d" d="M168 0H311"/></g>
<g transform="rotate(35.7)"><path d="M155 0H168"/><path class="d" d="M168 0H311"/></g>
<g transform="rotate(40)"><path d="M150 0H161"/><path class="d" d="M161 0H311"/></g>
<g transform="rotate(44.3)"><path d="M150 0H161"/><path class="d" d="M161 0H311"/></g>
<g transform="rotate(48.7)"><path d="M160 0H175"/><path class="d" d="M175 0H311"/></g>
<g transform="rotate(53)"><path d="M160 0H175"/><path class="d" d="M175 0H311"/></g>
<g transform="rotate(57.3)"><path d="M140 0H150"/><path class="d" d="M150 0H311"/></g>
<g transform="rotate(61.6)"><path d="M140 0H150"/><path class="d" d="M150 0H311"/></g>
<g transform="rotate(65.9)"><path d="M145 0H157"/><path class="d" d="M157 0H311"/></g>
<g transform="rotate(70.3)"><path d="M145 0H157"/><path class="d" d="M157 0H311"/></g>
<g transform="rotate(74.6)"><path d="M150 0H162"/><path class="d" d="M162 0H311"/></g>
<g transform="rotate(78.9)"><path d="M150 0H162"/><path class="d" d="M162 0H311"/></g>
<g transform="rotate(83.2)"><path d="M145 0H165"/><path class="d" d="M165 0H311"/></g>
<g transform="rotate(87.6)"><path d="M145 0H165"/><path class="d" d="M165 0H311"/></g>
<g transform="rotate(91.9)"><path d="M168 0H178"/><path class="d" d="M178 0H311"/></g>
<g transform="rotate(96.2)"><path d="M168 0H178"/><path class="d" d="M178 0H311"/></g>
<g transform="rotate(100.5)"><path d="M131 0H170"/><path class="d" d="M170 0H311"/></g>
<g transform="rotate(104.8)"><path d="M180 0H192"/><path class="d" d="M192 0H311"/></g>
<g transform="rotate(109.2)"><path d="M180 0H192"/><path class="d" d="M192 0H311"/></g>
<g transform="rotate(113.5)"><path d="M175 0H186"/><path class="d" d="M186 0H311"/></g>
<g transform="rotate(117.8)"><path d="M175 0H186"/><path class="d" d="M186 0H311"/></g>
<g transform="rotate(122.1)"><path d="M156 0H185"/><path class="d" d="M185 0H311"/></g>
<g transform="rotate(126.5)"><path d="M200 0H215"/><path class="d" d="M215 0H311"/></g>
<g transform="rotate(130.8)"><path d="M200 0H215"/><path class="d" d="M215 0H311"/></g>
<g transform="rotate(135.1)"><path d="M200 0H214"/><path class="d" d="M214 0H311"/></g>
<g transform="rotate(139.4)"><path d="M200 0H214"/><path class="d" d="M214 0H311"/></g>
<g transform="rotate(143.7)"><path d="M220 0H236"/><path class="d" d="M236 0H311"/></g>
<g transform="rotate(148.1)"><path d="M220 0H236"/><path class="d" d="M236 0H311"/></g>
<g transform="rotate(152.4)"><path d="M222 0H234"/><path class="d" d="M234 0H311"/></g>
<g transform="rotate(156.7)"><path d="M222 0H234"/><path class="d" d="M234 0H311"/></g>
<g transform="rotate(161)"><path d="M226 0H235"/><path class="d" d="M235 0H311"/></g>
<g transform="rotate(165.4)"><path d="M235 0H244"/><path class="d" d="M244 0H311"/></g>
<g transform="rotate(169.7)"><path d="M235 0H244"/><path class="d" d="M244 0H311"/></g>
<g transform="rotate(174)"><path d="M246 0H256"/><path class="d" d="M256 0H311"/></g>
<g transform="rotate(178.3)"><path d="M246 0H256"/><path class="d" d="M256 0H311"/></g>
<g transform="rotate(182.7)"><path d="M219 0H231"/><path class="d" d="M231 0H311"/></g>
<g transform="rotate(187)"><path d="M234 0H240"/><path class="d" d="M240 0H311"/></g>
<g transform="rotate(191.3)"><path d="M234 0H240"/><path class="d" d="M240 0H311"/></g>
<g transform="rotate(195.6)"><path d="M246 0H255"/><path class="d" d="M255 0H311"/></g>
<g transform="rotate(200)"><path d="M246 0H255"/><path class="d" d="M255 0H311"/></g>
</g>

<g id="ringB" transform="translate(340.5 1046)">
<circle class="ring rb" r="320.5" pathLength="360" stroke-dasharray="354.4 999" transform="rotate(207.7)"/>
<g class="ring rr">
<circle r="320.5" pathLength="360" stroke-dasharray="9 999" transform="rotate(207.7)"/>
<circle r="320.5" pathLength="360" stroke-dasharray="4.5 999" transform="rotate(277.5)"/>
<circle r="320.5" pathLength="360" stroke-dasharray="9 999" transform="rotate(312)"/>
<circle r="320.5" pathLength="360" stroke-dasharray="4.6 999" transform="rotate(346.4)"/>
<circle r="320.5" pathLength="360" stroke-dasharray="4 999" transform="rotate(16.5)"/>
<circle r="320.5" pathLength="360" stroke-dasharray="4.3 999" transform="rotate(71.9)"/>
<circle r="320.5" pathLength="360" stroke-dasharray="13.1 999" transform="rotate(85)"/>
<circle r="320.5" pathLength="360" stroke-dasharray="12.9 999" transform="rotate(102.3)"/>
<circle r="320.5" pathLength="360" stroke-dasharray="4.5 999" transform="rotate(136.7)"/>
<circle r="320.5" pathLength="360" stroke-dasharray="4.7 999" transform="rotate(158.4)"/>
<circle r="320.5" pathLength="360" stroke-dasharray="14.1 999" transform="rotate(171.4)"/>
<circle r="320.5" pathLength="360" stroke-dasharray="4.6 999" transform="rotate(188.8)"/>
</g>
<g class="ring rg">
<circle r="320.5" pathLength="360" stroke-dasharray="4.7 999" transform="rotate(20.5)"/>
<circle r="320.5" pathLength="360" stroke-dasharray="4.5 999" transform="rotate(37.5)"/>
<circle r="320.5" pathLength="360" stroke-dasharray="4.4 999" transform="rotate(59.3)"/>
<circle r="320.5" pathLength="360" stroke-dasharray="4.1 999" transform="rotate(67.8)"/>
<circle r="320.5" pathLength="360" stroke-dasharray="8.8 999" transform="rotate(76.2)"/>
<circle r="320.5" pathLength="360" stroke-dasharray="4.2 999" transform="rotate(98.1)"/>
<circle r="320.5" pathLength="360" stroke-dasharray="21.5 999" transform="rotate(115.2)"/>
<circle r="320.5" pathLength="360" stroke-dasharray="8.3 999" transform="rotate(163.1)"/>
<circle r="320.5" pathLength="360" stroke-dasharray="3.3 999" transform="rotate(185.5)"/>
<circle r="320.5" pathLength="360" stroke-dasharray="8.7 999" transform="rotate(193.4)"/>
</g>
</g>

<g id="legendB">
<text class="ttl" x="53" y="1371.5">S. haemolyticus</text>
<rect x="0" y="1394.5" width="12" height="12" fill="#2b4b9b"/>
<text class="leg" x="18" y="1406">Europe</text>
<rect x="99" y="1394.5" width="12" height="12" fill="#2d8a3e"/>
<text class="leg" x="116" y="1406">Middle East</text>
<rect x="222" y="1394.5" width="12" height="12" fill="#ed2328"/>
<text class="leg" x="240" y="1406">Asia</text>
</g>
<g id="scaleB">
<text class="sc" x="355" y="1406">Tree scale: 0.01</text>
<path class="bar" d="M500 1398H664.5M500 1394V1402M664.5 1394V1402M582 1398V1402"/>
</g>
</svg>
